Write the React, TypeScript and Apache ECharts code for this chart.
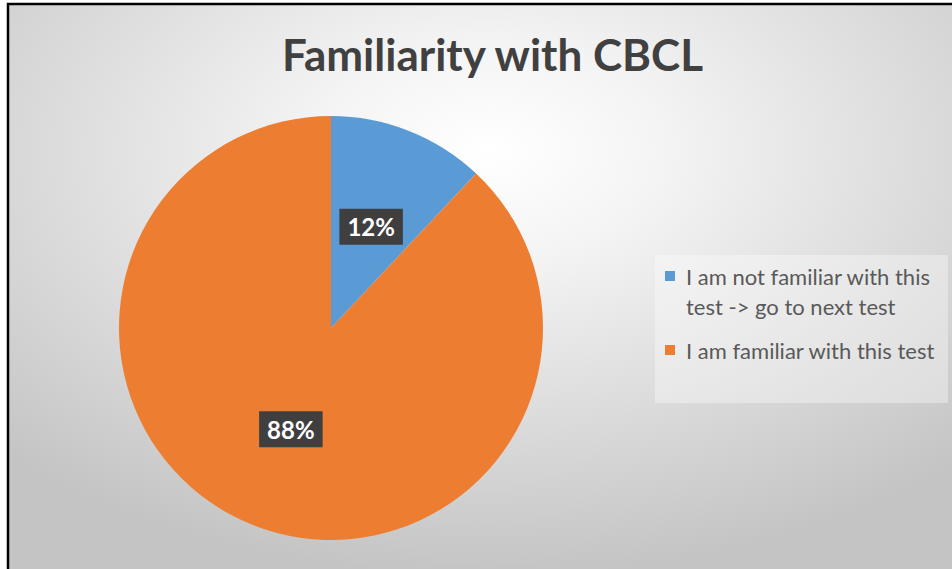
import React, { useEffect, useRef } from "react";
import * as echarts from "echarts";

const titleText = "Familiarity with CBCL";
const categories = [
  "I am not familiar with this test -> go to next test",
  "I am familiar with this test",
];
const legendLines: string[][] = [
  ["I am not familiar with this", "test -> go to next test"],
  ["I am familiar with this test"],
];
const values = [12, 88];
const colors = ["#5B9BD5", "#ED7D31"];

export default function App() {
  const ref = useRef<HTMLDivElement>(null);
  useEffect(() => {
    document.body.style.margin = "0";
    const chart = echarts.init(ref.current!, undefined, { renderer: "svg" });
    const LH = 30;
    chart.setOption({
      animation: false,
      backgroundColor: "#ffffff",
      title: {
        text: titleText,
        left: 277,
        top: 27,
        textStyle: {
          fontFamily: "Lato",
          fontWeight: "bold",
          fontSize: 44,
          color: "#404040",
        },
      },
      graphic: [
        {
          type: "rect",
          z: -10,
          shape: { x: 8, y: 4, width: 960, height: 590 },
          style: {
            fill: new echarts.graphic.RadialGradient(0.5, 0.25, 0.72, [
              { offset: 0, color: "#ffffff" },
              { offset: 0.25, color: "#f4f4f4" },
              { offset: 1, color: "#c4c4c4" },
            ]),
            stroke: "#000000",
            lineWidth: 2.5,
          },
        },
        {
          type: "rect",
          z: -5,
          shape: { x: 655, y: 255, width: 293, height: 148 },
          style: { fill: "rgba(255,255,255,0.35)" },
        },
      ],
      legend: {
        orient: "vertical",
        left: 665,
        top: 276 - 1.5 * LH,
        padding: 0,
        itemGap: 14,
        itemWidth: 10,
        itemHeight: 10,
        icon: "rect",
        data: categories,
        formatter: (name: string) => {
          const i = categories.indexOf(name);
          const lines = legendLines[i];
          if (lines.length > 1) return "\u00a0\n" + lines.join("\n");
          return lines[0];
        },
        textStyle: {
          fontFamily: "Lato",
          fontSize: 22,
          color: "#595959",
          lineHeight: LH,
          padding: [0, 0, 0, 6],
        },
      },
      series: [
        {
          type: "pie",
          center: [331, 328],
          radius: 212,
          startAngle: 90,
          clockwise: true,
          data: categories.map((c, i) => ({
            name: c,
            value: values[i],
            itemStyle: { color: colors[i] },
          })),
          label: {
            show: true,
            position: "inside",
            formatter: "{c}%",
            fontFamily: "Lato",
            fontWeight: "bold",
            fontSize: 24,
            color: "#ffffff",
            backgroundColor: "#3f3f3f",
            padding: [6, 8, 6, 8],
          },
          labelLine: { show: false },
          emphasis: { disabled: true },
        },
      ],
    });
    return () => chart.dispose();
  }, []);
  return <div ref={ref} style={{ width: 952, height: 569 }} />;
}
